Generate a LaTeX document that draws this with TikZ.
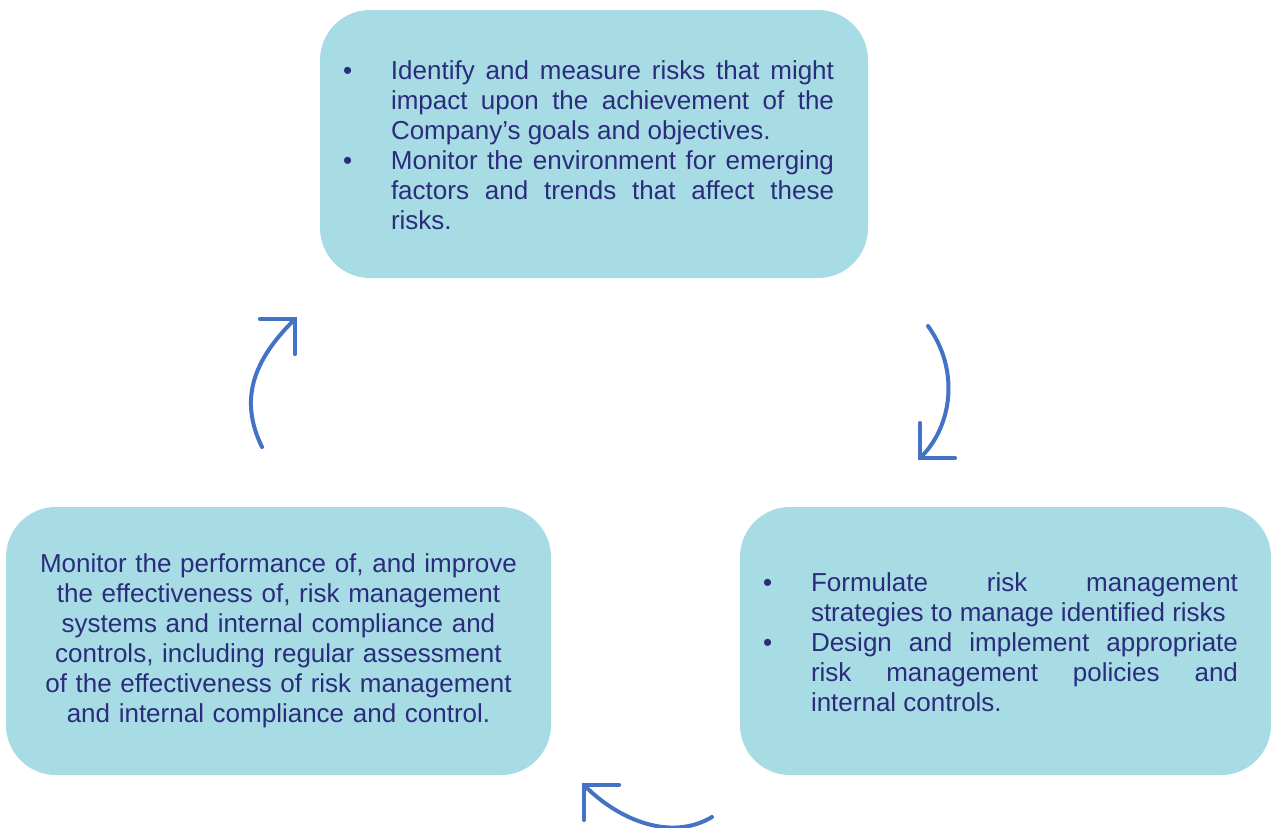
\documentclass[tikz,border=0pt]{standalone}
\usepackage{fontspec}
\setmainfont{Liberation Sans}
\usetikzlibrary{arrows.meta}
\definecolor{boxfill}{RGB}{168,220,228}
\definecolor{boxtext}{RGB}{43,44,124}
\definecolor{arrowblue}{RGB}{68,114,196}
% bullet item: bullet, then a justified block of the given width
\newcommand{\riskitem}[2]{\par\lineskip=0pt\noindent\makebox[24pt][l]{\textbullet}%
  \parbox[t]{#1}{\leftskip=0pt\rightskip=0pt\parfillskip=0pt plus 1fil%
    \spaceskip=0pt\xspaceskip=0pt\tolerance=10000\hbadness=10000\strut #2\strut}\par}
\hyphenpenalty=10000
\begin{document}
\begin{tikzpicture}[x=0.5pt, y=-0.5pt,
  box/.style={fill=boxfill, rounded corners=25pt, text=boxtext, inner sep=0pt,
    minimum height=134pt, font=\fontsize{13}{15}\selectfont},
  cycle/.style={draw=arrowblue, line width=2pt, line cap=round,
    -{Straight Barb[length=12.4pt, width=24.8pt, line cap=round]}}]
  \useasboundingbox (0,0) rectangle (1271,827);
  % the three stages
  \node[box, minimum width=274pt, text width=251pt, align=left] (identify) at (594,144)
    {\riskitem{221.5pt}{Identify and measure risks that might\linebreak impact upon the achievement of the\linebreak Company’s goals and objectives.}
     \riskitem{221.5pt}{Monitor the environment for emerging\linebreak factors and trends that affect these\linebreak risks.}};
  \node[box, minimum width=265.5pt, text width=242.5pt, align=left] (treat) at (1005.5,641)
    {\riskitem{213.5pt}{Formulate risk management\linebreak strategies to manage identified risks}
     \riskitem{213.5pt}{Design and implement appropriate\linebreak risk management policies and\linebreak internal controls.}};
  \node[box, minimum width=272.5pt, text width=250pt, align=center] (review) at (278.5,641)
    {Monitor the performance of, and improve\\ the effectiveness of, risk management\\
     systems and internal compliance and\\ controls, including regular assessment\\
     of the effectiveness of risk management\\ and internal compliance and control.};
  % cycle arrows
  \coordinate (toTreatA) at (928,326);
  \coordinate (toTreatB) at (918,460);
  \coordinate (toReviewA) at (712,817);
  \coordinate (toReviewB) at (582,783);
  \coordinate (toIdentA) at (262,447);
  \coordinate (toIdentB) at (297,317);
  \draw[cycle] (toTreatA) .. controls (960,370) and (952,426) .. (toTreatB);
  \draw[cycle] (toReviewA) .. controls (670,842) and (618,819) .. (toReviewB);
  \draw[cycle] (toIdentA) .. controls (238,398) and (255,359) .. (toIdentB);
\end{tikzpicture}
\end{document}
